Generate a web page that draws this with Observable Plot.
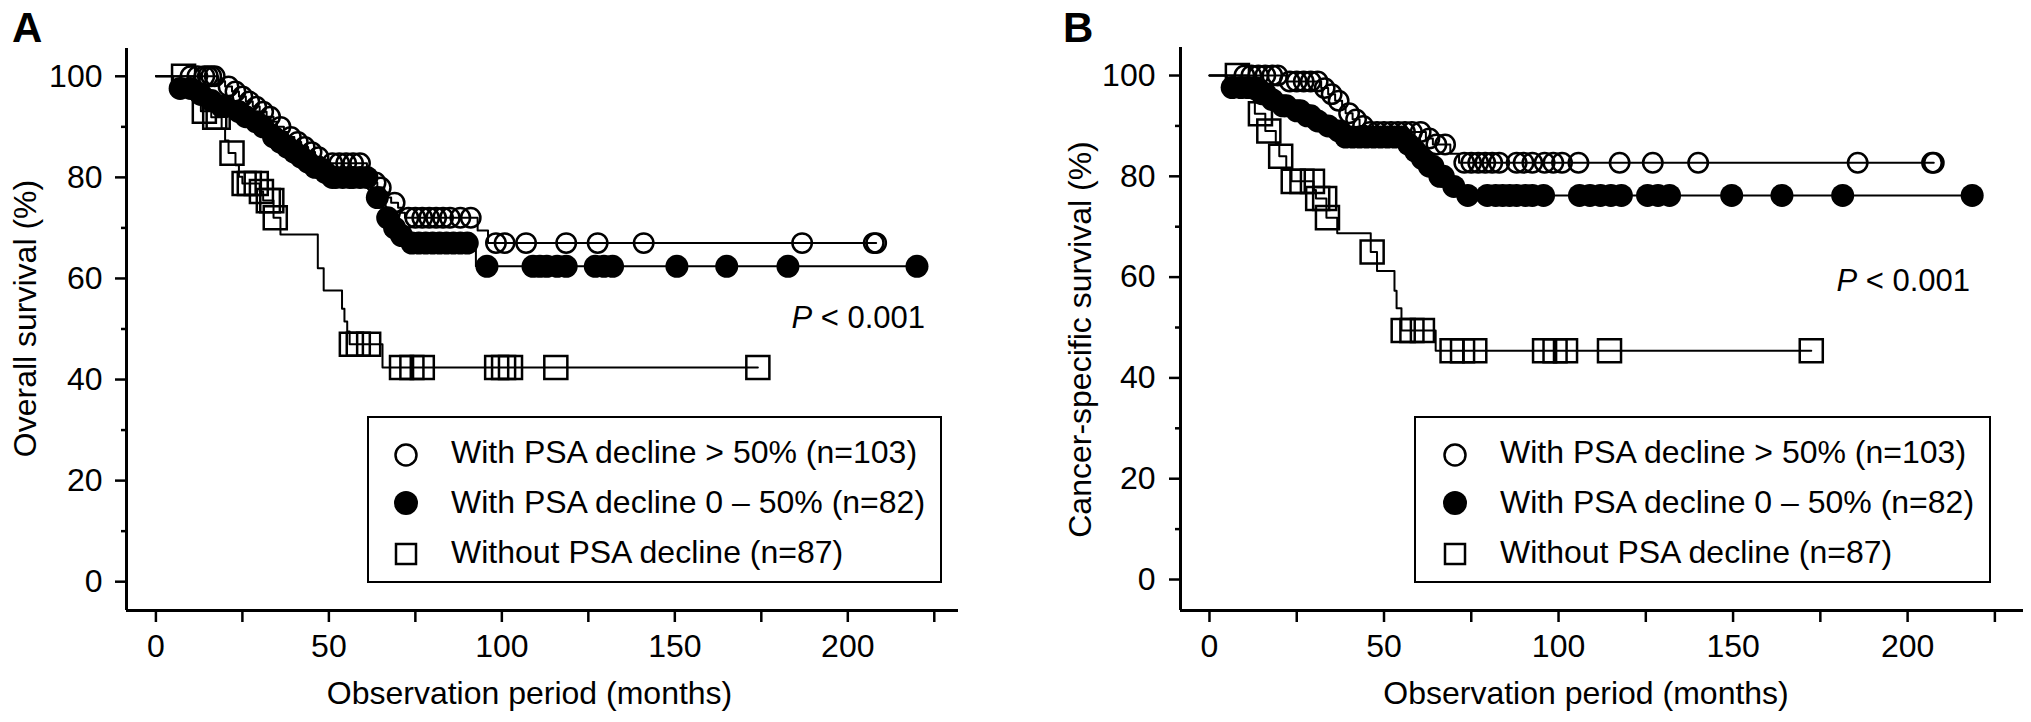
<!DOCTYPE html>
<html>
<head>
<meta charset="utf-8">
<script src="https://cdn.jsdelivr.net/npm/d3@7"></script>
<script src="https://cdn.jsdelivr.net/npm/@observablehq/plot@0.6"></script>
<style>
  body { margin: 0; background: #fff; color: #000; font-family: "Liberation Sans", Arial, sans-serif; }
  #fig { display: flex; width: 2031px; height: 722px; overflow: hidden; }
  .panel { position: relative; height: 722px; flex: none; }
  .panel svg { display: block; }
  .letter { position: absolute; top: 7px; font-weight: bold; font-size: 42px; line-height: 42px; }
  .pval { position: absolute; font-size: 31px; line-height: 31px; white-space: nowrap; }
  .legend { position: absolute; top: 416px; height: 167px; border: 2px solid #000; box-sizing: border-box; background: #fff; }
  .legend .row { position: absolute; font-size: 32px; line-height: 32px; white-space: nowrap; }
  .legend svg { position: absolute; overflow: visible; }
</style>
</head>
<body>
<div id="fig">
  <div class="panel" id="panelA"></div>
  <div class="panel" id="panelB"></div>
</div>
<script>
// ---- ticks / labels ----
const xTicks = [0, 50, 100, 150, 200]
const xMinorTicks = [25, 75, 125, 175, 225]
const yTicks = [0, 20, 40, 60, 80, 100]
const yMinorTicks = [10, 30, 50, 70, 90]
const groups = ["With PSA decline > 50% (n=103)", "With PSA decline 0 \u2013 50% (n=82)", "Without PSA decline (n=87)"]
const xTitle = "Observation period (months)"

// ---- A: overall survival (event times, survival after event, censored times) ----
const osHighT = [18, 20, 22, 24, 26, 28, 30, 32, 34, 35, 37, 38, 40, 42, 44, 46, 48, 50, 61, 62, 63, 64, 66, 67, 68, 70, 71, 72, 93, 96]
const osHighS = [99, 98, 97, 96, 95, 94, 93, 92, 91, 90, 89, 88, 87, 86, 85, 84, 83.5, 82.8, 81.5, 80, 79, 78, 77, 76, 75, 74, 73, 72, 69.5, 67]
const osHighC = [10, 12, 14, 15, 16, 17, 21, 23, 25, 27, 29, 31, 33, 36, 39, 41, 43, 45, 47, 51, 53, 55, 57, 59, 63.5, 65, 69, 73, 75, 77, 79, 81, 83, 85, 88, 91, 98.3, 100.8, 107, 118.6, 127.7, 141, 186.8, 207.5, 208.2]

const osMidT = [5, 12, 15, 18, 22, 25, 28, 30, 32, 33, 35, 37, 39, 41, 43, 45, 48, 50, 62, 63, 65, 66, 68, 70, 72, 92.5]
const osMidS = [97.6, 96.4, 95.2, 94, 93, 92, 91, 90, 89, 88, 87, 86, 85, 84, 83, 82, 81, 80, 78, 76, 74, 72, 70, 68.5, 67, 62.4]
const osMidC = [7, 10, 13, 16, 19, 20, 24, 26, 29, 31, 34, 36, 38, 40, 42, 44, 46, 47, 49, 51, 52, 54, 56, 57, 59, 61, 64, 67, 69, 71, 74, 76, 78, 80, 82, 84, 86, 88, 90, 95.7, 109, 111, 113, 116, 118.6, 127, 129.5, 132, 150.6, 165, 182.7, 220]

const osNoneT = [11, 12, 13, 16, 19, 20, 21, 23, 24, 25, 30, 31, 34, 36, 46.8, 48.5, 53.8, 54.5, 55.3, 56, 65.5]
const osNoneS = [97.7, 95.4, 93.1, 91.9, 89.6, 87.3, 84.8, 82.4, 80.1, 78.8, 77.2, 75.4, 72, 68.7, 62, 57.6, 54, 51.5, 49.5, 47, 42.4]
const osNoneC = [8, 14, 17, 18, 22, 25.5, 27, 29, 30.5, 32.5, 33.5, 34.5, 56.5, 58.5, 61.5, 71, 74, 77, 98.5, 100.5, 102.5, 115.6, 174]

// ---- B: cancer-specific survival ----
const cssHighT = [22, 32, 34, 36, 38, 39, 41, 43, 45, 62, 64, 69, 71.5]
const cssHighS = [98.8, 97.5, 96.3, 95, 93.8, 92.5, 91.3, 90, 88.8, 87.5, 86.3, 84.5, 82.7]
const cssHighC = [10, 12, 14, 16, 18, 19.5, 23, 25, 27, 29, 31, 33, 35, 37, 40, 42, 44, 46, 48, 50, 52, 54, 56, 58, 60.5, 63, 65, 67.5, 73, 75, 77, 79, 81, 83, 88, 90, 92.5, 96, 98.5, 101, 105.7, 117.5, 127, 140, 185.7, 207, 207.5]

const cssMidT = [5, 14, 17, 20, 24, 27, 30, 33, 36, 38, 56, 58, 60, 62, 65, 68, 71]
const cssMidS = [97.6, 96.4, 95.2, 94, 93, 92, 91, 90, 89, 87.8, 86.4, 85, 83.5, 82, 80, 78, 76.2]
const cssMidC = [6.5, 9, 11, 13, 15, 16, 18, 21, 22, 25, 26, 28, 29, 31, 34, 37, 39, 41, 43, 45, 47, 49, 51, 53, 55, 57, 59, 61, 63, 64, 66, 67, 70, 74, 79.6, 82, 84, 86, 88, 90.5, 92.5, 95.7, 106, 109, 112, 115, 118, 125.5, 128.5, 131.8, 149.6, 164, 181.4, 218.5]

const cssNoneT = [11, 12, 13, 16, 19, 20, 22, 23.5, 29.8, 30.5, 33.5, 36.6, 46.2, 48, 53, 53.6, 55, 64.8]
const cssNoneS = [97.7, 95.4, 92.4, 89, 86.5, 84, 81.5, 79, 77.3, 75.6, 71.8, 68.7, 65, 61.2, 57.3, 53.8, 49.4, 45.4]
const cssNoneC = [8, 14.6, 17, 20.4, 24, 26.5, 29.5, 31, 33, 33.8, 46.6, 55.5, 58, 61, 69.5, 72.5, 76, 96, 99, 102, 114.6, 172.4]

// curva escalonada de Kaplan-Meier
function steps(times, surv, cens) {
  const end = Math.max(d3.max(times), d3.max(cens))
  const pts = [{x: 0, y: 100}]
  times.forEach((t, i) => pts.push({x: t, y: surv[i]}))
  pts.push({x: end, y: surv[surv.length - 1]})
  return pts
}

// marcas de censura sobre la curva
function censored(times, surv, cens) {
  return cens.map(c => {
    const i = d3.bisectRight(times, c) - 1
    return {x: c, y: i < 0 ? 100 : surv[i]}
  })
}

const styles = [
  {symbol: "circle", r: 9.7, fill: "none", stroke: "black", strokeWidth: 2.5},
  {symbol: "circle", r: 11.5, fill: "black", stroke: "none"},
  {symbol: "square", r: 13, fill: "none", stroke: "black", strokeWidth: 2.5},
]

function drawPanel(cfg) {
  const curves = []
  // primero cuadrados, despues circulos llenos, arriba los vacios
  ;[2, 1, 0].forEach(g => {
    const [t, s, c] = cfg.series[g]
    curves.push(Plot.line(steps(t, s, c), {x: "x", y: "y", curve: "step-after", stroke: "black", strokeWidth: 2}))
    curves.push(Plot.dot(censored(t, s, c), {x: "x", y: "y", ...styles[g]}))
  })

  const chart = Plot.plot({
    width: cfg.width,
    height: 722,
    marginLeft: cfg.marginLeft,
    marginRight: cfg.marginRight,
    marginTop: cfg.marginTop,
    marginBottom: cfg.marginBottom,
    x: {domain: cfg.xDomain},
    y: {domain: cfg.yDomain},
    style: {fontFamily: '"Liberation Sans", Arial, sans-serif', fontSize: "32px", color: "black", background: "white", overflow: "visible"},
    marks: [
      Plot.axisY(yTicks, {tickSize: 11, tickPadding: cfg.yTickPadding, strokeWidth: 2.5, label: null}),
      Plot.axisY(yMinorTicks, {tickSize: 5, strokeWidth: 2.5, tickFormat: () => "", label: null}),
      Plot.axisX(xTicks, {tickSize: 12, tickPadding: 12, strokeWidth: 2.5, label: null}),
      Plot.axisX(xMinorTicks, {tickSize: 12, strokeWidth: 2.5, tickFormat: () => "", label: null}),
      Plot.ruleX([cfg.xDomain[0]], {stroke: "black", strokeWidth: 3}),
      Plot.ruleY([cfg.yDomain[0]], {stroke: "black", strokeWidth: 3}),
      Plot.text([cfg.yLabel], {text: d => d, frameAnchor: "left", textAnchor: "middle", lineAnchor: "middle", rotate: -90, dx: cfg.yLabelDx, dy: cfg.yLabelDy}),
      Plot.text([xTitle], {text: d => d, frameAnchor: "bottom", textAnchor: "middle", lineAnchor: "middle", dx: cfg.xLabelDx, dy: 83}),
      ...curves,
    ],
  })

  const panel = d3.select(cfg.id).style("width", cfg.width + "px")
  panel.append(() => chart)

  panel.append("div").attr("class", "letter").style("left", cfg.letterX + "px").text(cfg.letter)

  panel.append("div").attr("class", "pval")
    .style("right", cfg.pRight + "px").style("top", cfg.pTop + "px")
    .html("<i>P</i> &lt; 0.001")

  const box = panel.append("div").attr("class", "legend")
    .style("left", cfg.legendLeft + "px").style("width", cfg.legendWidth + "px")
  const rowY = [37, 85, 136]
  const textTop = [18, 68, 118]
  groups.forEach((name, g) => {
    const svg = box.append("svg").attr("width", 30).attr("height", 30)
      .style("left", (cfg.legendMarkerX - 15) + "px").style("top", (rowY[g] - 15) + "px")
    if (g === 0) svg.append("circle").attr("cx", 15).attr("cy", 15).attr("r", 10.5).attr("fill", "none").attr("stroke", "black").attr("stroke-width", 2.5)
    if (g === 1) svg.append("circle").attr("cx", 15).attr("cy", 15).attr("r", 12).attr("fill", "black")
    if (g === 2) svg.append("rect").attr("x", 5).attr("y", 5).attr("width", 20).attr("height", 20).attr("fill", "none").attr("stroke", "black").attr("stroke-width", 2.5)
    box.append("div").attr("class", "row")
      .style("left", cfg.legendTextX + "px").style("top", textTop[g] + "px")
      .text(name)
  })
}

drawPanel({
  id: "#panelA", letter: "A", letterX: 12,
  width: 1000, marginLeft: 126, marginRight: 42, marginTop: 48, marginBottom: 112,
  xDomain: [-8.5, 232], yDomain: [-5.7, 105.5],
  yTickPadding: 13,
  yLabel: "Overall survival (%)", yLabelDx: -101, yLabelDy: -11, xLabelDx: -13,
  pRight: 75, pTop: 302,
  legendLeft: 367, legendWidth: 575, legendMarkerX: 37, legendTextX: 82,
  series: [[osHighT, osHighS, osHighC], [osMidT, osMidS, osMidC], [osNoneT, osNoneS, osNoneC]],
})

drawPanel({
  id: "#panelB", letter: "B", letterX: 63,
  width: 1031, marginLeft: 180, marginRight: 8, marginTop: 47, marginBottom: 112,
  xDomain: [-8.3, 233.2], yDomain: [-6.15, 105.56],
  yTickPadding: 14,
  yLabel: "Cancer-specific survival (%)", yLabelDx: -100, yLabelDy: 10.5, xLabelDx: -16,
  pRight: 61, pTop: 265,
  legendLeft: 414, legendWidth: 577, legendMarkerX: 39, legendTextX: 84,
  series: [[cssHighT, cssHighS, cssHighC], [cssMidT, cssMidS, cssMidC], [cssNoneT, cssNoneS, cssNoneC]],
})
</script>
</body>
</html>
